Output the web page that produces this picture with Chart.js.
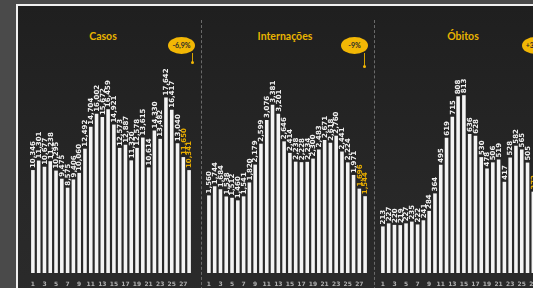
<!DOCTYPE html>
<html>
<head>
<meta charset="utf-8">
<script src="https://cdn.jsdelivr.net/npm/chart.js@4.4.1/dist/chart.umd.min.js"></script>
<style>
    html, body {
        margin: 0;
        padding: 0;
        width: 533px;
        height: 288px;
        overflow: hidden;
        background: #4a4a4a;
        font-family: Lato, "Open Sans", sans-serif;
    }
    #board {
        position: absolute;
        left: 16px;
        top: 4px;
        width: 600px;
        height: 340px;
        border: 2px solid #f0f0f0;
        background: linear-gradient(180deg, #1f1f1f 0%, #282828 60%, #2c2c2c 100%);
    }
    .sep {
        position: absolute;
        top: 20px;
        height: 270px;
        width: 0;
        border-left: 1px dashed #6a6a6a;
    }
    .title {
        position: absolute;
        top: 30px;
        width: 120px;
        margin-left: -60px;
        text-align: center;
        color: #e8b400;
        font-weight: bold;
        font-size: 10.5px;
    }
    .badge {
        position: absolute;
        top: 37px;
        width: 27px;
        height: 17px;
        margin-left: -13px;
        border-radius: 50%;
        background: #f2b705;
        color: #2a2a2a;
        font-weight: bold;
        font-size: 7px;
        line-height: 17px;
        text-align: center;
    }
    .stick {
        position: absolute;
        width: 1px;
        background: #d9a400;
    }
    .dot {
        position: absolute;
        width: 3px;
        height: 3px;
        border-radius: 50%;
        background: #f2b705;
    }
    canvas {
        position: absolute;
        top: 0;
    }
</style>
</head>
<body>
<div id="board"></div>
<div class="sep" style="left:201px"></div>
<div class="sep" style="left:374px"></div>

<div class="title" style="left:103px">Casos</div>
<div class="title" style="left:285px">Internações</div>
<div class="title" style="left:463px">Óbitos</div>

<div class="badge" style="left:181px">-6,9%</div>
<div class="stick" style="left:192px; top:53px; height:9px"></div>
<div class="dot" style="left:191px; top:61px"></div>

<div class="badge" style="left:354px">-9%</div>
<div class="stick" style="left:364px; top:53px; height:13px"></div>
<div class="dot" style="left:363px; top:65px"></div>

<div class="badge" style="left:535px">+3,4%</div>

<canvas id="casosChart" width="162" height="288" style="left:30px"></canvas>
<canvas id="internacoesChart" width="162" height="288" style="left:206px"></canvas>
<canvas id="obitosChart" width="162" height="288" style="left:380px"></canvas>

<script>
// Days of the period (x axis)
const days = ['1', '2', '3', '4', '5', '6', '7', '8', '9', '10', '11', '12', '13', '14',
    '15', '16', '17', '18', '19', '20', '21', '22', '23', '24', '25', '26', '27', '28'];

// Series values
const casos = [10346, 11301, 10677, 11238, 10295, 9475, 8575, 9406, 10060, 12492, 14704, 16002, 15672, 16459,
    14921, 12573, 12887, 11320, 12578, 13615, 10614, 14330, 13482, 17642, 16417, 13040, 11650, 10341];
const internacoes = [1560, 1744, 1684, 1538, 1512, 1460, 1541, 1820, 2179, 2599, 3076, 3381, 3201, 2646,
    2414, 2238, 2228, 2234, 2300, 2483, 2671, 2618, 2760, 2441, 2224, 1971, 1696, 1544];
const obitos = [213, 227, 220, 219, 227, 235, 222, 241, 284, 364, 495, 619, 715, 808,
    813, 636, 628, 530, 478, 506, 519, 417, 528, 582, 565, 505, 372, 340];

// Top of each panel's value axis
const axisMax = [20000, 4000, 910];

// Number of last days drawn with a highlighted label
const highlightLast = 2;

// Draws the vertical value labels above each bar
const barLabels = {
    id: 'barLabels',
    afterDatasetsDraw(chart) {
        const ctx = chart.ctx;
        const meta = chart.getDatasetMeta(0);
        const values = chart.data.datasets[0].data;
        ctx.save();
        ctx.font = 'bold 7px "DejaVu Sans", sans-serif';
        ctx.textAlign = 'left';
        ctx.textBaseline = 'middle';
        meta.data.forEach((bar, i) => {
            const text = values[i].toLocaleString('en-US');
            ctx.save();
            ctx.translate(bar.x + 0.5, bar.y - 2);
            ctx.rotate(-Math.PI / 2);
            ctx.fillStyle = i >= values.length - highlightLast ? '#e8ad00' : '#f2f2f2';
            ctx.fillText(text, 0, 0);
            ctx.restore();
        });
        ctx.restore();
    }
};

// Function to create one panel
function createPanel(id, values, max) {
    const ctx = document.getElementById(id).getContext('2d');
    return new Chart(ctx, {
        type: 'bar',
        data: {
            labels: days,
            datasets: [{
                data: values,
                backgroundColor: '#f4f4f4',
                barPercentage: 0.62,
                categoryPercentage: 1
            }]
        },
        options: {
            responsive: false,
            animation: false,
            layout: { padding: { top: 74, left: 0, right: 0, bottom: 0 } },
            plugins: {
                legend: { display: false },
                tooltip: { enabled: false }
            },
            scales: {
                x: {
                    grid: { display: false },
                    border: { display: false },
                    ticks: {
                        autoSkip: false,
                        maxRotation: 0,
                        padding: 0,
                        color: '#b0b0b0',
                        font: { size: 6, weight: 'bold', family: '"DejaVu Sans", sans-serif' },
                        callback: function (value, index) {
                            return index % 2 === 0 ? days[index] : '';
                        }
                    },
                    afterFit: function (scale) {
                        scale.height = 15;
                    }
                },
                y: {
                    display: false,
                    min: 0,
                    max: max
                }
            }
        },
        plugins: [barLabels]
    });
}

createPanel('casosChart', casos, axisMax[0]);
createPanel('internacoesChart', internacoes, axisMax[1]);
createPanel('obitosChart', obitos, axisMax[2]);
</script>
</body>
</html>
